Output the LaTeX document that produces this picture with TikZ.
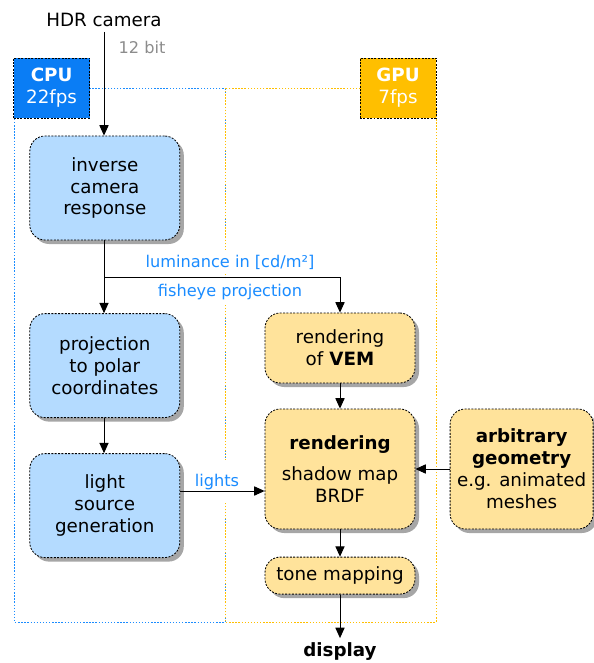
\documentclass[tikz,border=0pt]{standalone}
\usepackage{fontspec}
\setmainfont{DejaVu Sans}
\usetikzlibrary{shadows,arrows.meta}
\definecolor{cpublue}{HTML}{0A7DF5}
\definecolor{cpulight}{HTML}{B4DBFF}
\definecolor{gpuorange}{HTML}{FFBF00}
\definecolor{gpulight}{HTML}{FFE39B}
\definecolor{flowblue}{HTML}{1A8CFF}

\begin{document}
\begin{tikzpicture}[
    font = \fontsize{13}{15.6}\selectfont,
    >={Triangle[length=2.6mm, width=2.3mm]},
    stage/.style = {draw, line width = 0.6pt, dash pattern = on 1.4pt off 1pt, rounded corners = 0.38cm, align = center, minimum width = 3.75cm,
      drop shadow = {shadow xshift = 0.1cm, shadow yshift = -0.1cm, fill = black!35, opacity = 1}},
    cpu stage/.style = {stage, fill = cpulight, minimum height = 2.6cm},
    gpu stage/.style = {stage, fill = gpulight},
    unit/.style = {draw, line width = 0.6pt, dash pattern = on 1.4pt off 1pt, text = white, align = center, minimum width = 1.9cm, minimum height = 1.5cm},
    frame/.style = {line width = 0.6pt, dash pattern = on 1pt off 1.2pt},
    flow label/.style = {text = flowblue, font = \fontsize{11.5}{13.8}\selectfont, fill = white},
    link/.style = {->, line width = 0.7pt}
  ]
    \useasboundingbox (0, 0) rectangle (14.825, -16.575);
    \draw[frame, flowblue] (0.35, -2.2) rectangle (5.625, -15.55);
    \draw[frame, gpuorange] (5.625, -2.2) rectangle (10.9, -15.55);
    \node[unit, fill = cpublue] (cpu) at (1.29, -2.2) {\bfseries CPU \\ 22fps};
    \node[unit, fill = gpuorange] (gpu) at (9.95, -2.2) {\bfseries GPU \\ 7fps};
    \node (hdr camera) at (2.6, -0.5) {HDR camera};
    \node[text = black!45, font = \fontsize{11.5}{13.8}\selectfont] (bit depth) at (3.55, -1.175) {12 bit};
    \node[cpu stage] (inverse response) at (2.62, -4.7) {inverse \\ camera \\ response};
    \node[cpu stage] (polar projection) at (2.62, -9.14) {projection \\ to polar \\ coordinates};
    \node[cpu stage] (light generation) at (2.62, -12.64) {light \\ source \\ generation};
    \node[gpu stage, minimum height = 1.75cm] (vem rendering) at (8.5, -8.7) {rendering \\ of \textbf{VEM}};
    \node[gpu stage, minimum height = 3cm] (rendering) at (8.5, -11.725) {\textbf{rendering} \\[6pt] shadow map \\ BRDF};
    \node[gpu stage, minimum height = 0.925cm] (tone mapping) at (8.5, -14.39) {tone mapping};
    \node[gpu stage, minimum width = 3.575cm, minimum height = 3cm] (geometry) at (13.04, -11.725) {\textbf{arbitrary} \\ \textbf{geometry} \\ e.g. animated \\ meshes};
    \node[font = \fontsize{13}{15.6}\selectfont\bfseries] (display) at (8.5, -16.3) {display};
    \node[flow label] (luminance) at (5.75, -6.55) {luminance in [cd/m²]};
    \node[flow label] (fisheye) at (5.75, -7.3) {fisheye projection};
    \node[flow label, minimum height = 1.07cm] (lights) at (5.425, -12.04) {lights};
    \coordinate (branch) at (2.6, -6.925);
    \draw[link] (hdr camera) -- (hdr camera |- inverse response.north);
    \draw[link] (inverse response.south -| hdr camera) -- (polar projection.north -| hdr camera);
    \draw[link] (branch) -| (vem rendering.north);
    \draw[link] (polar projection.south -| hdr camera) -- (light generation.north -| hdr camera);
    \draw[link] ([yshift = 0.365cm]light generation.east) -- ([yshift = 0.365cm]light generation.east -| rendering.west);
    \draw[link] (vem rendering) -- (rendering);
    \draw[link] (geometry) -- (rendering);
    \draw[link] (rendering) -- (tone mapping);
    \draw[link] (tone mapping) -- (display);
  \end{tikzpicture}
\end{document}
